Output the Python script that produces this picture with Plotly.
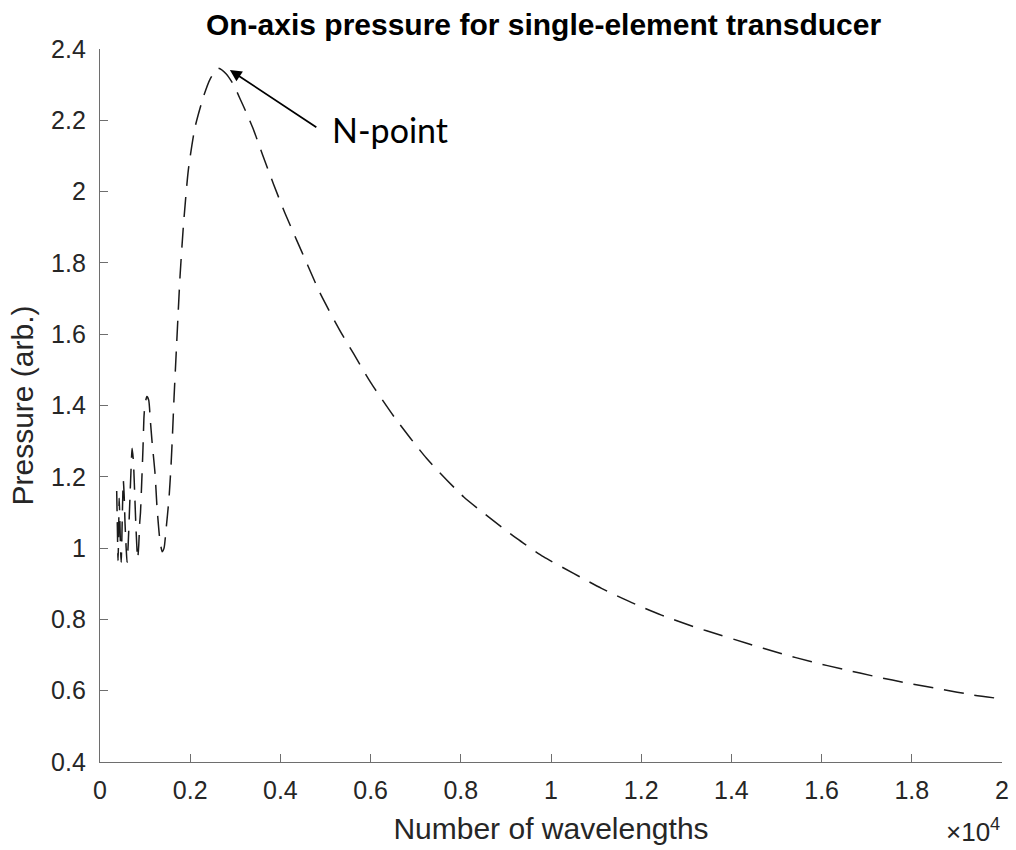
import plotly.graph_objects as go

# Number of wavelengths (x) and on-axis pressure (y)
wavelengths = [370, 385, 400, 412, 425, 440, 455, 470, 485, 500, 517, 535, 555, 580, 600,
               625, 655, 685, 712, 740, 770, 800, 835, 860, 880, 898, 925, 953, 976, 1000,
               1040, 1080, 1115, 1153, 1220, 1264, 1330, 1380, 1420, 1463, 1530, 1574, 1608,
               1641, 1700, 1774, 1848, 1959, 2106, 2291, 2439, 2620, 2800, 2960, 3100, 3250,
               3400, 3600, 3850, 4100, 4360, 4600, 4880, 5320, 5620, 6000, 6540, 7240, 8060,
               8650, 9240, 9830, 10500, 11120, 11790, 12450, 13150, 13450, 14340, 15080,
               15780, 16480, 17220, 17920, 18660, 19360, 20000]
pressure = [1.16, 1.06, 0.965, 1.03, 1.14, 1.08, 1.00, 0.96, 1.03, 1.12, 1.19, 1.15, 1.07, 1.00, 0.96,
            1.01, 1.11, 1.21, 1.28, 1.245, 1.15, 1.05, 0.97, 1.01, 1.07, 1.10, 1.185, 1.28, 1.37, 1.405,
            1.425, 1.415, 1.36, 1.30, 1.21, 1.115, 1.02, 0.99, 1.00, 1.05, 1.14, 1.23, 1.32,
            1.42, 1.574, 1.761, 1.902, 2.061, 2.180, 2.265, 2.315, 2.346, 2.330, 2.300, 2.262, 2.220,
            2.175, 2.105, 2.020, 1.940, 1.864, 1.795, 1.715, 1.610, 1.546, 1.465, 1.365, 1.252, 1.144,
            1.084, 1.027, 0.976, 0.929, 0.887, 0.847, 0.812, 0.780, 0.768, 0.733, 0.705,
            0.681, 0.660, 0.639, 0.621, 0.604, 0.588, 0.577]

x_tickvals = [0, 2000, 4000, 6000, 8000, 10000, 12000, 14000, 16000, 18000, 20000]
x_ticktext = ["0", "0.2", "0.4", "0.6", "0.8", "1", "1.2", "1.4", "1.6", "1.8", "2"]
y_tickvals = [0.4, 0.6, 0.8, 1.0, 1.2, 1.4, 1.6, 1.8, 2.0, 2.2, 2.4]
y_ticktext = ["0.4", "0.6", "0.8", "1", "1.2", "1.4", "1.6", "1.8", "2", "2.2", "2.4"]

title_text = "On-axis pressure for single-element transducer"
x_title = "Number of wavelengths"
y_title = "Pressure (arb.)"
annot_text = "N-point"
arrow_head = (2880, 2.341)
arrow_tail = (4830, 2.178)

TXT = "#262626"
AX = "#6e6e6e"
FONT = "Liberation Sans, Arial, sans-serif"

fig = go.Figure()
fig.add_trace(go.Scatter(
    x=wavelengths, y=pressure, mode="lines",
    line=dict(color="#1a1a1a", width=1.5, dash="20px,11px", shape="spline", smoothing=0.6),
    showlegend=False, hoverinfo="skip"))

fig.update_layout(
    width=1016, height=850,
    margin=dict(l=100, r=14, t=49, b=88),
    paper_bgcolor="white", plot_bgcolor="white",
    font=dict(family=FONT, color=TXT, size=25),
    title=dict(text="<b>" + title_text + "</b>", x=0.535, xanchor="center",
               y=1 - 24 / 850, yanchor="middle", yref="container",
               font=dict(family=FONT, size=30, color="#000000")),
    xaxis=dict(range=[0, 20000], tickvals=x_tickvals, ticktext=x_ticktext, automargin=False,
               showgrid=False, zeroline=False, showline=True, linecolor=AX, linewidth=1.3,
               ticks="inside", ticklen=8, tickcolor=AX, tickwidth=1.2,
               tickfont=dict(size=25, color=TXT), ticklabelstandoff=6,
               title=dict(text=x_title, font=dict(size=30, color=TXT), standoff=14)),
    yaxis=dict(range=[0.4, 2.4], tickvals=y_tickvals, ticktext=y_ticktext, automargin=False,
               showgrid=False, zeroline=False, showline=True, linecolor=AX, linewidth=1.3,
               ticks="inside", ticklen=8, tickcolor=AX, tickwidth=1.2,
               tickfont=dict(size=25, color=TXT), ticklabelstandoff=8,
               title=dict(text=y_title, font=dict(size=30, color=TXT), standoff=8)),
)

fig.add_annotation(x=arrow_head[0], y=arrow_head[1], ax=arrow_tail[0], ay=arrow_tail[1],
                   xref="x", yref="y", axref="x", ayref="y", text="",
                   showarrow=True, arrowhead=2, arrowsize=1.3, arrowwidth=1.8, arrowcolor="#000000")
fig.add_annotation(x=5100, y=2.173, xref="x", yref="y", text=annot_text, showarrow=False,
                   xanchor="left", yanchor="middle",
                   font=dict(family="Lato, Open Sans, sans-serif", size=34, color="#000000"))
fig.add_annotation(x=1.0, y=-(831 - 762) / 713, xref="paper", yref="paper", text="×10<sup>4</sup>",
                   showarrow=False, xanchor="right", yanchor="middle",
                   font=dict(family=FONT, size=26, color=TXT))

fig.write_html("out.html")
